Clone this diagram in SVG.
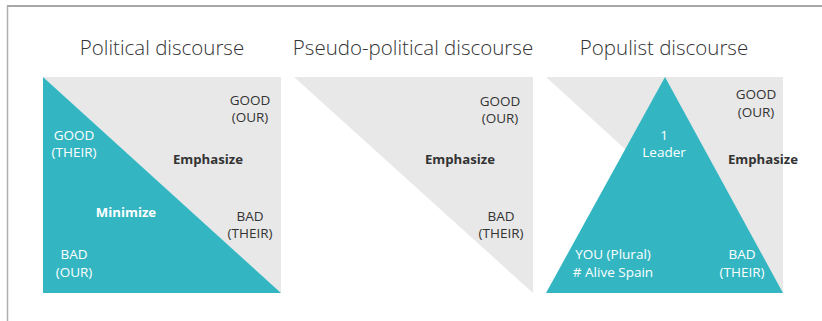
<svg xmlns="http://www.w3.org/2000/svg" width="822" height="321" viewBox="0 0 822 321">
  <style>
    .title { font-family: "Open Sans", Lato, sans-serif; font-size: 20.5px; font-weight: 300; fill: #333; text-anchor: middle; }
    .lbl { font-family: "Open Sans", Lato, sans-serif; font-size: 13.5px; fill: #333; text-anchor: middle; }
    .lbl.w { fill: #ffffff; }
    .b { font-weight: bold; font-size: 13.2px; }
    .teal { fill: #33B6C2; }
    .grey { fill: #E8E8E8; }
  </style>
  <rect width="822" height="321" fill="#ffffff"/>
  <!-- frame -->
  <line x1="7" y1="6" x2="822" y2="6" stroke="#8a8a8a" stroke-width="1.5"/>
  <line x1="7.5" y1="6" x2="7.5" y2="321" stroke="#b0b0b0" stroke-width="1.5"/>

  <g id="political">
    <text class="title" x="162" y="55">Political discourse</text>
    <polygon class="grey" points="43,77 281,77 281,293"/>
    <polygon class="teal" points="43,77 43,293 281,293"/>
    <text class="lbl" x="250" y="105">GOOD</text>
    <text class="lbl" x="250" y="122">(OUR)</text>
    <text class="lbl w" x="74" y="140">GOOD</text>
    <text class="lbl w" x="74" y="157">(THEIR)</text>
    <text class="lbl b" x="208" y="164">Emphasize</text>
    <text class="lbl w b" x="126" y="217">Minimize</text>
    <text class="lbl" x="250" y="221">BAD</text>
    <text class="lbl" x="250" y="238">(THEIR)</text>
    <text class="lbl w" x="74" y="259">BAD</text>
    <text class="lbl w" x="74" y="277">(OUR)</text>
  </g>

  <g id="pseudo-political">
    <text class="title" x="413" y="55">Pseudo-political discourse</text>
    <polygon class="grey" points="294,77 533,77 533,293"/>
    <text class="lbl" x="500" y="106">GOOD</text>
    <text class="lbl" x="500" y="123">(OUR)</text>
    <text class="lbl b" x="460" y="164">Emphasize</text>
    <text class="lbl" x="501" y="221">BAD</text>
    <text class="lbl" x="501" y="238">(THEIR)</text>
  </g>

  <g id="populist">
    <text class="title" x="664" y="55">Populist discourse</text>
    <polygon class="grey" points="546,77 783,77 783,293"/>
    <polygon class="teal" points="665,77 783,293 546,293"/>
    <text class="lbl" x="756" y="99">GOOD</text>
    <text class="lbl" x="756" y="117">(OUR)</text>
    <text class="lbl w" x="664" y="140">1</text>
    <text class="lbl w" x="664" y="157">Leader</text>
    <text class="lbl b" x="763" y="164">Emphasize</text>
    <text class="lbl w" x="613" y="259">YOU (Plural)</text>
    <text class="lbl w" x="613" y="277"># Alive Spain</text>
    <text class="lbl w" x="742" y="259">BAD</text>
    <text class="lbl w" x="742" y="277">(THEIR)</text>
  </g>
</svg>
